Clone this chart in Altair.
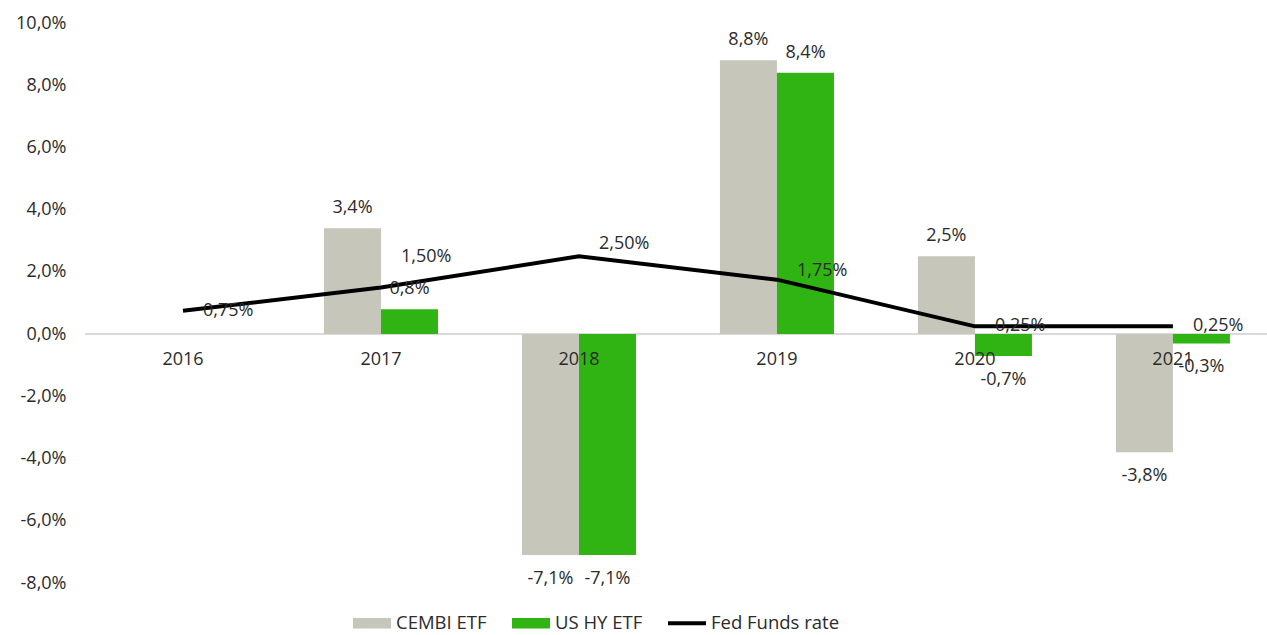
import altair as alt
import pandas as pd

years = ["2016", "2017", "2018", "2019", "2020", "2021"]
cembi = [None, 3.4, -7.1, 8.8, 2.5, -3.8]
ushy = [None, 0.8, -7.1, 8.4, -0.7, -0.3]
fed = [0.75, 1.50, 2.50, 1.75, 0.25, 0.25]
series_names = ["CEMBI ETF", "US HY ETF", "Fed Funds rate"]
colors = ["#c6c6ba", "#30b414", "#000000"]

rows = []
for y, c, u in zip(years, cembi, ushy):
    rows.append({"year": y, "series": series_names[0], "value": c})
    rows.append({"year": y, "series": series_names[1], "value": u})
bars_df = pd.DataFrame(rows)
fed_df = pd.DataFrame({"year": years, "series": series_names[2], "value": fed})
years_df = pd.DataFrame({"year": years})

FONT = "Open Sans"
TXT = "#2b2b2b"
FS = 18

xscale = alt.Scale(domain=years, paddingInner=0.424, paddingOuter=0.197, align=0.525)
yscale = alt.Scale(domain=[-8, 10], nice=False)
cscale = alt.Scale(domain=series_names, range=colors)

rect_path = "M-1,-0.27H1V0.27H-1Z"
line_path = "M-1,-0.1H1V0.1H-1Z"
sscale = alt.Scale(domain=series_names, range=[rect_path, rect_path, line_path])

legend = alt.Legend(
    title=None, orient="none", direction="horizontal", legendX=268, legendY=581,
    labelFontSize=18.5, labelFont=FONT, labelColor=TXT, symbolSize=1444,
    labelOffset=5, columnPadding=25, symbolStrokeWidth=0, symbolOpacity=1,
)

fmt1 = "replace(replace(format(datum.value, '.1f'), '.', ','), '\u2212', '-') + '%'"
fmt2 = "replace(replace(format(datum.value, '.2f'), '.', ','), '\u2212', '-') + '%'"

yaxis = alt.Axis(
    values=[-8, -6, -4, -2, 0, 2, 4, 6, 8, 10], grid=False, domain=False, ticks=False,
    labelExpr=fmt1,
    labelFontSize=FS, labelFont=FONT, labelColor=TXT, labelPadding=19, title=None,
)

xoff = alt.XOffset("series:N", scale=alt.Scale(domain=series_names[:2], paddingInner=0, paddingOuter=0))
xenc = alt.X("year:N", scale=xscale, axis=None)

bars = alt.Chart(bars_df).transform_filter("isValid(datum.value)").mark_bar().encode(
    x=xenc,
    xOffset=xoff,
    y=alt.Y("value:Q", scale=yscale, axis=yaxis),
    color=alt.Color("series:N", scale=cscale, legend=legend),
)

zero = alt.Chart(years_df).mark_rule(color="#d9d9d9", strokeWidth=1).encode(y=alt.datum(0))

bar_text_pos = alt.Chart(bars_df).transform_filter("isValid(datum.value) && datum.value > 0").transform_calculate(
    label=fmt1).mark_text(baseline="bottom", dy=-11, fontSize=FS, font=FONT, color=TXT).encode(
    x=xenc, xOffset=xoff, y=alt.Y("value:Q", scale=yscale), text="label:N",
)
bar_text_neg = alt.Chart(bars_df).transform_filter("isValid(datum.value) && datum.value < 0").transform_calculate(
    label=fmt1).mark_text(baseline="top", dy=15, fontSize=FS, font=FONT, color=TXT).encode(
    x=xenc, xOffset=xoff, y=alt.Y("value:Q", scale=yscale), text="label:N",
)

line = alt.Chart(fed_df).mark_line(strokeWidth=4).encode(
    x=xenc,
    y=alt.Y("value:Q", scale=yscale),
    color=alt.Color("series:N", scale=cscale, legend=legend),
)

legend_pts = alt.Chart(bars_df.dropna()).mark_point(filled=True, opacity=0).encode(
    x=xenc,
    y=alt.Y("value:Q", scale=yscale),
    color=alt.Color("series:N", scale=cscale, legend=legend),
    shape=alt.Shape("series:N", scale=sscale, legend=legend),
)

# Fed funds labels: placement offsets per label (style only)
label_offsets = {"2016": 0, "2017": -30, "2018": -12, "2019": -9, "2020": 0, "2021": 0}
fed_texts = []
for yr, off in label_offsets.items():
    fed_texts.append(
        alt.Chart(fed_df).transform_filter(f"datum.year == '{yr}'").transform_calculate(label=fmt2)
        .mark_text(align="left", baseline="middle", dx=20, dy=off, fontSize=FS, font=FONT, color=TXT)
        .encode(x=xenc, y=alt.Y("value:Q", scale=yscale), text="label:N")
    )

year_text = alt.Chart(years_df).mark_text(baseline="middle", dy=26, fontSize=FS, font=FONT, color=TXT).encode(
    x=xenc,
    y=alt.datum(0),
    text="year:N",
)

chart = alt.layer(zero, bars, line, legend_pts, bar_text_pos, bar_text_neg, *fed_texts, year_text).properties(
    width=1182, height=560,
    padding={"left": 85, "top": 23, "right": 0, "bottom": 52},
    autosize=alt.AutoSizeParams(type="none"),
    background="white",
).configure_view(stroke=None)

chart.save("out.html", embed_options={"renderer": "svg", "actions": False})
